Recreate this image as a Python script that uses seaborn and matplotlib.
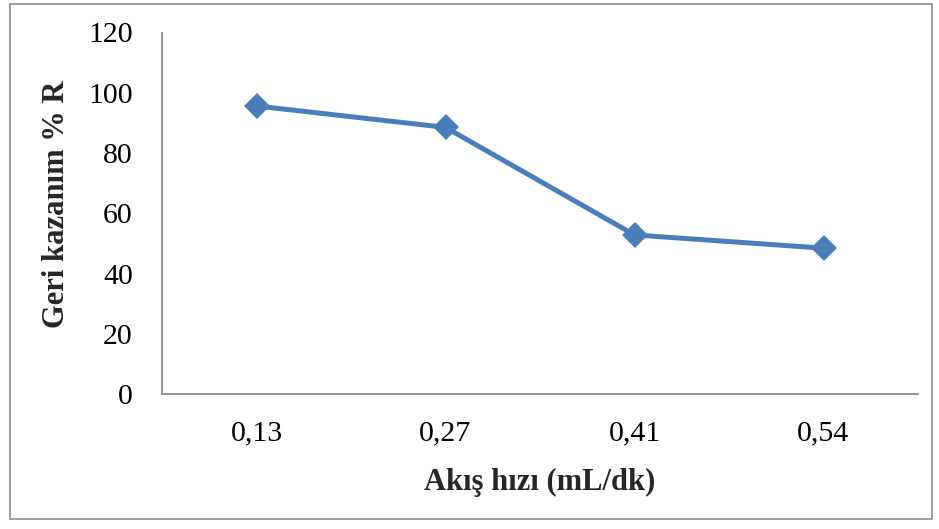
import matplotlib
matplotlib.use("Agg")
import matplotlib.pyplot as plt
import seaborn as sns
import pandas as pd
from matplotlib.patches import Rectangle

categories = ["0,13", "0,27", "0,41", "0,54"]
recovery = [95.6, 88.5, 52.8, 48.4]
yticks = [0, 20, 40, 60, 80, 100, 120]

sns.set_theme(style="white")
plt.rcParams["font.family"] = ["Liberation Serif", "DejaVu Serif"]

df = pd.DataFrame({"x": categories, "y": recovery})

fig = plt.figure(figsize=(9.39, 5.29), dpi=100)
ax = fig.add_axes([162/939, 1-394/529, 756/939, 361.5/529])

sns.lineplot(data=df, x="x", y="y", ax=ax, color="#4A7EBB", linewidth=3.6,
             marker="D", markersize=13, markeredgewidth=0, sort=False)

ax.set_xlim(-0.5, 3.5)
ax.set_ylim(0, 120)
ax.set_yticks(yticks)
ax.set_yticklabels([str(v) for v in yticks])

for side in ["top", "right"]:
    ax.spines[side].set_visible(False)
for side in ["left", "bottom"]:
    ax.spines[side].set_color("#8C8C8C")
    ax.spines[side].set_linewidth(1.3)

ax.tick_params(axis="both", length=0, labelsize=21.5, colors="black")
ax.tick_params(axis="y", pad=21)
ax.tick_params(axis="x", pad=19)

ax.set_xlabel("Akış hızı (mL/dk)", fontsize=22, fontweight="bold")
ax.set_ylabel("Geri kazanım % R", fontsize=22, fontweight="bold")
ax.xaxis.set_label_coords(0.5, -0.205)
ax.yaxis.set_label_coords(-0.12, 0.5256)
ax.xaxis.label.set_va("top")

fig.patches.append(Rectangle((10/939, 1-519/529), 922/939, 515/529,
                             transform=fig.transFigure, fill=False,
                             edgecolor="#8C8C8C", linewidth=1.2))

fig.savefig("out.png", dpi=100)
